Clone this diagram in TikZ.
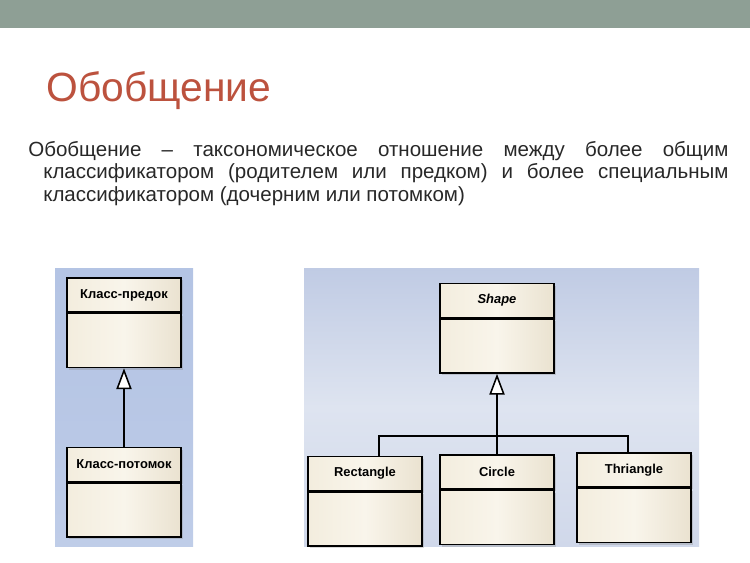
\documentclass[tikz,border=0pt]{standalone}
\usepackage{fontspec}
\setmainfont{Liberation Sans}
\usepackage{tikz}
\usetikzlibrary{arrows.meta,positioning,shadows}
\usepackage{xcolor}

\definecolor{barcol}{RGB}{142,159,149}
\definecolor{titlecol}{RGB}{188,82,62}
\definecolor{textcol}{RGB}{40,40,40}
\definecolor{paneltop}{RGB}{192,203,228}
\definecolor{panelmid}{RGB}{222,228,240}
\definecolor{panelbot}{RGB}{208,216,234}
\definecolor{leftpanel}{RGB}{180,196,228}
\definecolor{creamA}{RGB}{243,237,222}
\definecolor{creamM}{RGB}{249,245,235}
\definecolor{creamB}{RGB}{234,226,208}

\begin{document}
\begin{tikzpicture}[x=0.025cm,y=-0.025cm,
  hdr/.style={draw,line width=1.1pt,minimum width=2.85cm,minimum height=0.85cm,
              inner sep=0pt,left color=creamA,right color=creamB,middle color=creamM,
              drop shadow={shadow xshift=0.05cm,shadow yshift=-0.05cm,opacity=0.3},
              font=\fontsize{9.2pt}{10pt}\selectfont\bfseries},
  bdy/.style={hdr,minimum height=1.35cm},
  gen/.style={-{Triangle[fill=white,length=0.52cm,width=0.38cm]},line width=1.1pt},
  lnk/.style={line width=1.1pt}
]
\useasboundingbox (0,0) rectangle (750,562);

% top bar and title
\fill[barcol] (0,0) rectangle (750,28);
\node[anchor=base west,inner sep=0pt,text=titlecol,
      font=\fontsize{29pt}{31pt}\selectfont] (title) at (46,101) {Обобщение};

% definition text
\node[anchor=north west,inner sep=0pt,text width=17.5cm,align=justify,text=textcol,
      font=\fontsize{14.6pt}{16pt}\selectfont] (defn) at (28,141)
  {\leftskip=0.375cm\noindent\hspace*{-0.375cm}%
   Обобщение – таксономическое отношение между более общим\linebreak
   классификатором (родителем или предком) и более специальным\linebreak
   классификатором (дочерним или потомком)\par};

% panels
\fill[top color=leftpanel,bottom color=leftpanel!85!white,middle color=leftpanel!95!white] (55,268) rectangle (193,546);
\fill[top color=paneltop,bottom color=panelbot,middle color=panelmid] (304,268) rectangle (699,546);

% left diagram
\node[hdr] (pred) at (124,295) {Класс-предок};
\node[bdy,below=0pt of pred] (predbody) {};
\node[hdr] (potom) at (124,464.5) {Класс-потомок};
\node[bdy,below=0pt of potom] (potombody) {};

\draw[gen] (potom.north) -- (predbody.south);

% right diagram
\node[hdr] (shape) at (497,300.5) {\itshape Shape};
\node[bdy,below=0pt of shape] (shapebody) {};
\node[hdr] (rect) at (365,473.5) {Rectangle};
\node[bdy,below=0pt of rect] (rectbody) {};
\node[hdr] (circ) at (497,472) {Circle};
\node[bdy,below=0pt of circ] (circbody) {};
\node[hdr] (tri) at (634,470) {Thriangle};
\node[bdy,below=0pt of tri] (tribody) {};

\coordinate (bus) at (497,436);
\draw[lnk] ([xshift=0.35cm]rect.north) |- (bus) -| ([xshift=-0.15cm]tri.north);
\draw[gen] (circ.north) -- (shapebody.south);

\end{tikzpicture}
\end{document}
